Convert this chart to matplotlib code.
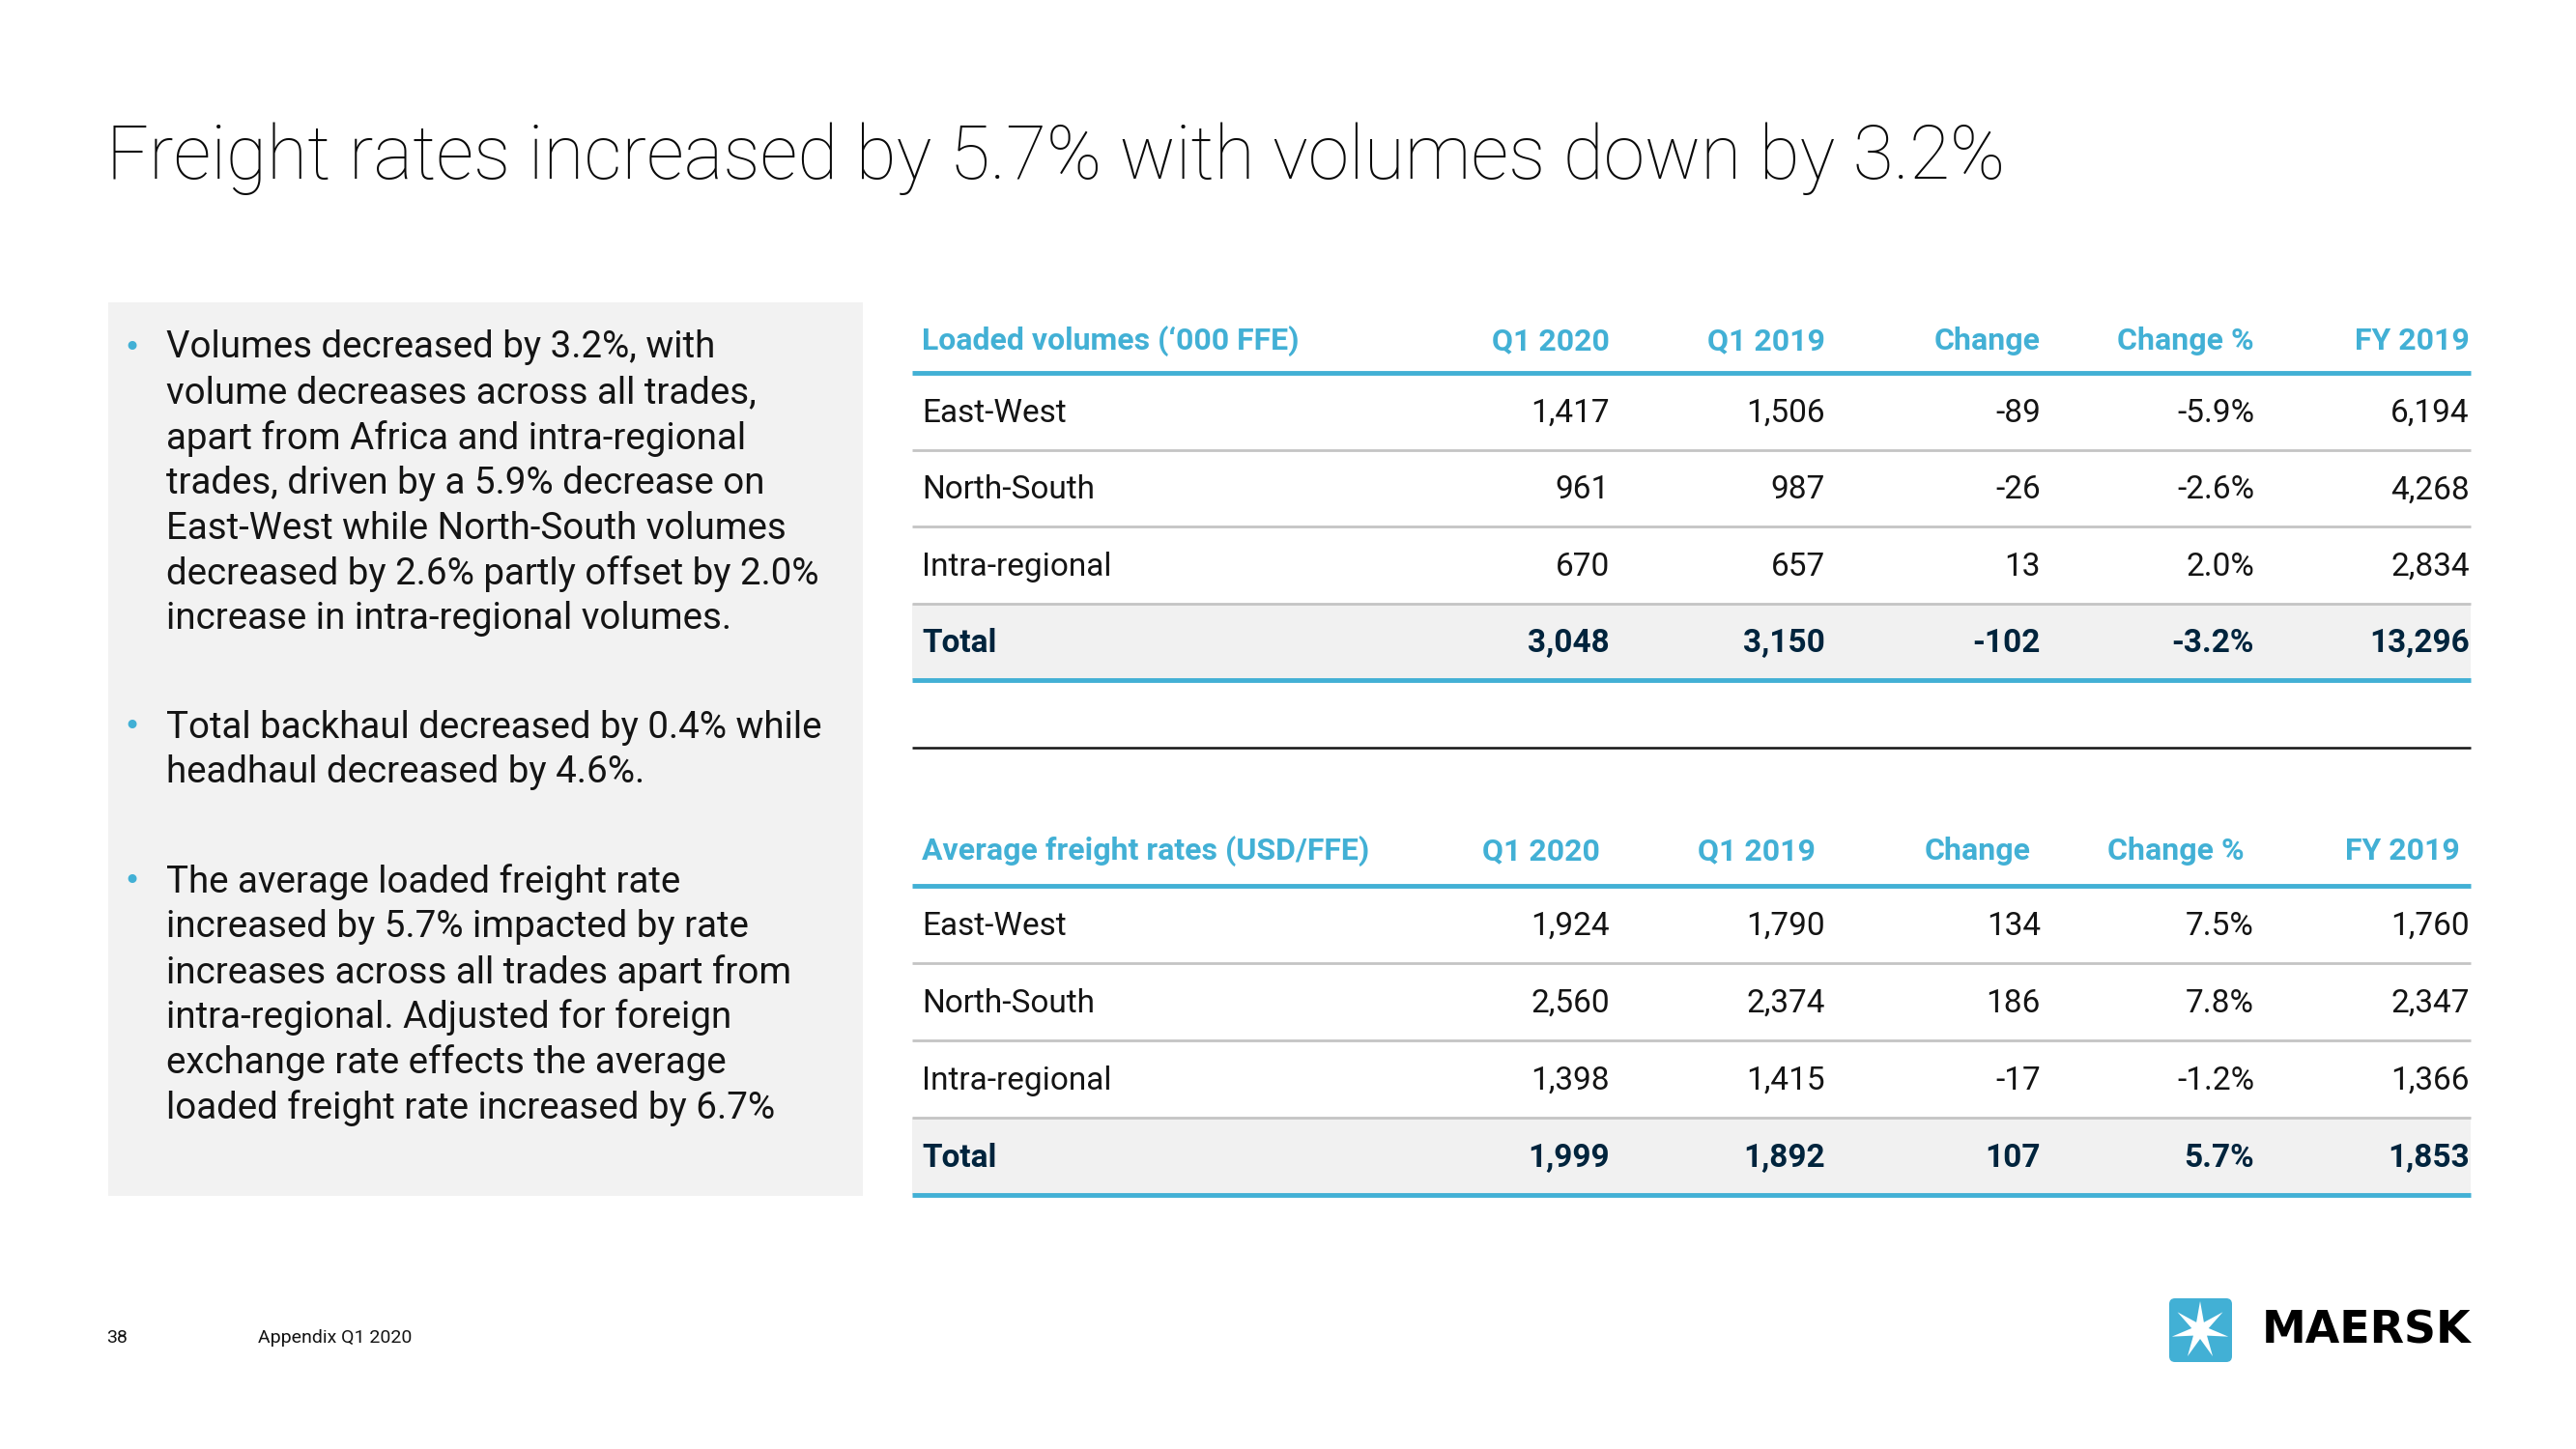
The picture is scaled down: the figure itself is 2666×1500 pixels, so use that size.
import numpy as np
import matplotlib
matplotlib.use('Agg')
import matplotlib.pyplot as plt
from matplotlib import font_manager
from matplotlib.patches import Rectangle, FancyBboxPatch, Polygon

# Table data
row_labels = ['East-West', 'North-South', 'Intra-regional', 'Total']
col_labels = ['Q1 2020', 'Q1 2019', 'Change', 'Change %', 'FY 2019']

vol_q1_2020 = [1417, 961, 670, 3048]
vol_q1_2019 = [1506, 987, 657, 3150]
vol_change = [-89, -26, 13, -102]
vol_change_pct = [-5.9, -2.6, 2.0, -3.2]
vol_fy_2019 = [6194, 4268, 2834, 13296]

rate_q1_2020 = [1924, 2560, 1398, 1999]
rate_q1_2019 = [1790, 2374, 1415, 1892]
rate_change = [134, 186, -17, 107]
rate_change_pct = [7.5, 7.8, -1.2, 5.7]
rate_fy_2019 = [1760, 2347, 1366, 1853]

title = 'Freight rates increased by 5.7% with volumes down by 3.2%'
bullets = [
    ['Volumes decreased by 3.2%, with',
     'volume decreases across all trades,',
     'apart from Africa and intra-regional',
     'trades, driven by a 5.9% decrease on',
     'East-West while North-South volumes',
     'decreased by 2.6% partly offset by 2.0%',
     'increase in intra-regional volumes.'],
    ['Total backhaul decreased by 0.4% while',
     'headhaul decreased by 4.6%.'],
    ['The average loaded freight rate',
     'increased by 5.7% impacted by rate',
     'increases across all trades apart from',
     'intra-regional. Adjusted for foreign',
     'exchange rate effects the average',
     'loaded freight rate increased by 6.7%'],
]

BLUE = '#42B0D5'
NAVY = '#00243D'
TEXT = '#141414'

names = {f.name for f in font_manager.fontManager.ttflist}
narrow = 'Liberation Sans Narrow' if 'Liberation Sans Narrow' in names else 'Roboto'
body = 'Roboto'

fig = plt.figure(figsize=(26.66, 15), dpi=100)
ax = fig.add_axes([0, 0, 1, 1])
ax.set_xlim(0, 2666)
ax.set_ylim(1500, 0)
ax.axis('off')

# title
ax.text(110, 185, title, fontsize=55.3, fontfamily=body, fontweight='light',
        color='#0a0a0a', va='baseline', ha='left')

# left panel with bullets
ax.add_patch(Rectangle((112, 313), 781, 925, facecolor='#f2f2f2', edgecolor='none'))
line_h = 46.8
starts = [360, 753, 913]
for start, lines in zip(starts, bullets):
    ax.text(136, start, '•', fontsize=22, color=BLUE, va='center', ha='center',
            fontfamily='DejaVu Sans')
    for i, ln in enumerate(lines):
        ax.text(172, start + i * line_h, ln, fontsize=27.7, fontfamily=body,
                color=TEXT, va='center', ha='left')


def fmt_int(v):
    return f'{v:,}'


def fmt_pct(v):
    return f'{v:.1f}%'


col_right = [1666, 1889, 2112, 2333, 2556]
x0, x1 = 944, 2557


def draw_table(header, header_y, line_y, row_step, cols, header_shift):
    ax.text(954, header_y, header, fontsize=23, fontweight='bold', fontfamily=narrow,
            color=BLUE, va='center', ha='left')
    for xr, lab in zip(col_right, col_labels):
        ax.text(xr + header_shift, header_y, lab, fontsize=23, fontweight='bold',
                fontfamily=narrow, color=BLUE, va='center', ha='right')
    n = len(row_labels)
    # total row background
    ax.add_patch(Rectangle((x0, line_y + (n - 1) * row_step), x1 - x0, row_step,
                           facecolor='#f1f1f1', edgecolor='none', zorder=0))
    ax.plot([x0, x1], [line_y, line_y], color=BLUE, lw=3.5, solid_capstyle='butt')
    for k in range(1, n):
        y = line_y + k * row_step
        ax.plot([x0, x1], [y, y], color='#c4c4c4', lw=2, solid_capstyle='butt')
    yb = line_y + n * row_step
    ax.plot([x0, x1], [yb, yb], color=BLUE, lw=3.5, solid_capstyle='butt')
    for r, lab in enumerate(row_labels):
        yc = line_y + (r + 0.5) * row_step + 2
        total = r == n - 1
        w = 'bold' if total else 'normal'
        c = NAVY if total else TEXT
        ax.text(954, yc, lab, fontsize=24, fontweight=w, fontfamily=narrow,
                color=c, va='center', ha='left')
        for xr, col in zip(col_right, cols):
            ax.text(xr, yc, col[r], fontsize=24, fontweight=w, fontfamily=narrow,
                    color=c, va='center', ha='right')


vol_cols = [[fmt_int(v) for v in vol_q1_2020], [fmt_int(v) for v in vol_q1_2019],
            [fmt_int(v) for v in vol_change], [fmt_pct(v) for v in vol_change_pct],
            [fmt_int(v) for v in vol_fy_2019]]
rate_cols = [[fmt_int(v) for v in rate_q1_2020], [fmt_int(v) for v in rate_q1_2019],
             [fmt_int(v) for v in rate_change], [fmt_pct(v) for v in rate_change_pct],
             [fmt_int(v) for v in rate_fy_2019]]

draw_table("Loaded volumes (\u2018000 FFE)", 353, 386, 79.5, vol_cols, 0)
ax.plot([x0, x1], [774, 774], color='#141414', lw=1.8, solid_capstyle='butt')
draw_table('Average freight rates (USD/FFE)', 881, 917, 80, rate_cols, -10)

# footer
ax.text(110, 1385, '38', fontsize=14, fontfamily=body, color=TEXT, va='center')
ax.text(267, 1385, 'Appendix Q1 2020', fontsize=14, fontfamily=body, color=TEXT, va='center')

# logo
ax.add_patch(FancyBboxPatch((2245, 1344), 65, 66, boxstyle='round,pad=0,rounding_size=6',
                            facecolor=BLUE, edgecolor='none'))
cx, cy = 2277, 1377
ang = -np.pi / 2 + np.arange(14) * np.pi / 7
rad = np.where(np.arange(14) % 2 == 0, 30, 9)
star = np.column_stack([cx + rad * np.cos(ang), cy + rad * np.sin(ang)])
ax.add_patch(Polygon(star, closed=True, facecolor='white', edgecolor='none'))
ax.text(2557, 1378, 'MAERSK', fontsize=33, fontweight='bold', fontfamily='DejaVu Sans',
        color='#000000', va='center', ha='right')

fig.savefig('out.png', dpi=100)
